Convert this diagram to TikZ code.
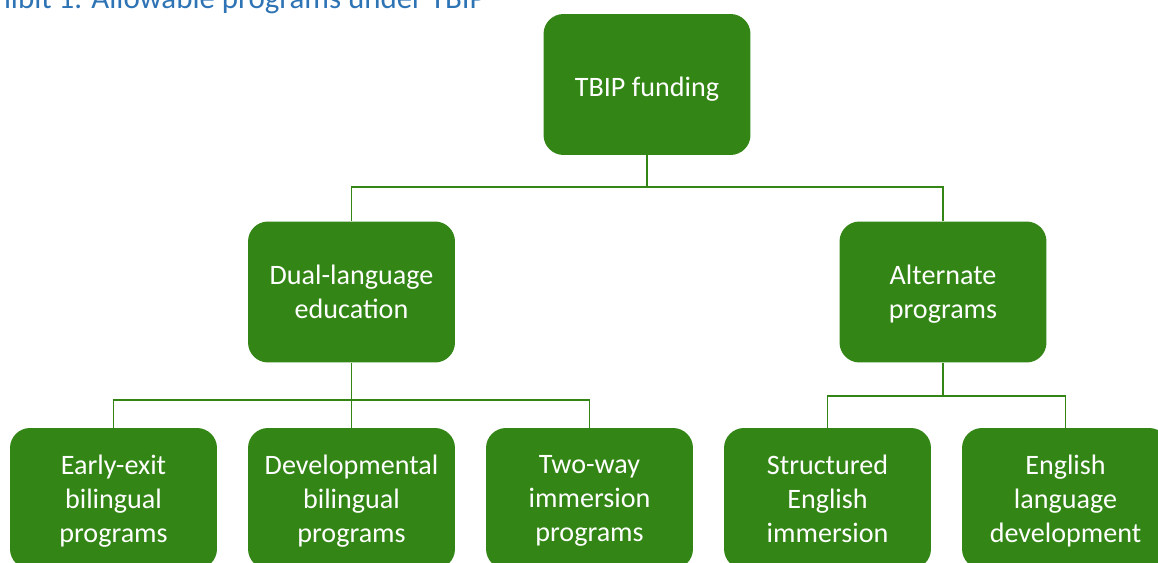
\documentclass[tikz,border=0pt]{standalone}
\usepackage{fontspec}
\setmainfont{Carlito}
\usepackage{xcolor}
\usepackage{tikz}
\usetikzlibrary{positioning}
\definecolor{boxgreen}{RGB}{51,134,22}
\definecolor{titleblue}{RGB}{46,116,181}

\begin{document}
\begin{tikzpicture}[x=0.02cm, y=-0.02cm,
  every node/.style={font=\fontsize{16}{19.4}\selectfont},
  bx/.style={fill=boxgreen, text=white, rounded corners=0.4cm, align=center,
             minimum width=4.14cm, minimum height=2.82cm, inner sep=2pt,
             execute at end node=\strut, text depth=-1pt},
  ln/.style={draw=boxgreen, line width=1.1pt}]
  \useasboundingbox (0,0) rectangle (1158,563);
  \clip (0,0) rectangle (1158,563);
  \node[anchor=base east, text=titleblue, font=\fontsize{17.6}{21}\selectfont]
    (ttl) at (492,9) {Exhibit 1. Allowable programs under TBIP};
  \node[bx] (top) at (647,84.5) {TBIP funding};
  \node[bx] (dual) at (351.5,292) {Dual-language\\education};
  \node[bx] (alt) at (943,292) {Alternate\\programs};
  \node[bx] (early) at (113.5,498.5) {Early-exit\\bilingual\\programs};
  \node[bx] (devel) at (351.5,498.5) {Developmental\\bilingual\\programs};
  \node[bx] (twoway) at (589.5,498.5) {Two-way\\immersion\\programs};
  \node[bx] (sei) at (827.5,498.5) {Structured\\English\\immersion};
  \node[bx] (eld) at (1065.5,498.5) {English\\language\\development};
  \draw[ln] (top.south) -- ++(0,32) -| (dual.north);
  \draw[ln] (top.south) ++(0,32) -| (alt.north);
  \draw[ln] (dual.south) -- ++(0,37) -| (early.north);
  \draw[ln] (dual.south) ++(0,37) -| (twoway.north);
  \draw[ln] (dual.south) -- (devel.north);
  \draw[ln] (alt.south) -- ++(0,33) -| (sei.north);
  \draw[ln] (alt.south) ++(0,33) -| (eld.north);
\end{tikzpicture}
\end{document}
